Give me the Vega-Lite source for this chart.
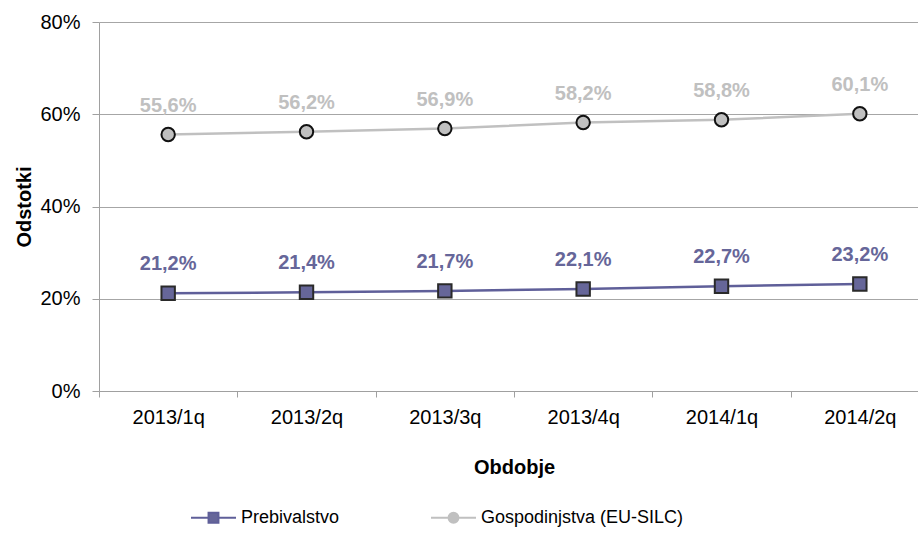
{
  "$schema": "https://vega.github.io/schema/vega-lite/v6.json",
  "autosize": {"type": "none"},
  "width": 819,
  "height": 369,
  "padding": {"left": 99, "top": 22, "right": 0, "bottom": 146},
  "config": {
    "locale": {"number": {"decimal": ",", "thousands": ".", "grouping": [3], "currency": ["", " €"]}},
    "font": "Liberation Sans",
    "view": {"stroke": null},
    "axis": {"labelFont": "Liberation Sans", "titleFont": "Liberation Sans", "labelColor": "#000", "titleColor": "#000"}
  },
  "data": {
    "values": [
      {"period": "2013/1q", "series": "Prebivalstvo", "value": 0.212},
      {"period": "2013/2q", "series": "Prebivalstvo", "value": 0.214},
      {"period": "2013/3q", "series": "Prebivalstvo", "value": 0.217},
      {"period": "2013/4q", "series": "Prebivalstvo", "value": 0.221},
      {"period": "2014/1q", "series": "Prebivalstvo", "value": 0.227},
      {"period": "2014/2q", "series": "Prebivalstvo", "value": 0.232},
      {"period": "2013/1q", "series": "Gospodinjstva (EU-SILC)", "value": 0.556},
      {"period": "2013/2q", "series": "Gospodinjstva (EU-SILC)", "value": 0.562},
      {"period": "2013/3q", "series": "Gospodinjstva (EU-SILC)", "value": 0.569},
      {"period": "2013/4q", "series": "Gospodinjstva (EU-SILC)", "value": 0.582},
      {"period": "2014/1q", "series": "Gospodinjstva (EU-SILC)", "value": 0.588},
      {"period": "2014/2q", "series": "Gospodinjstva (EU-SILC)", "value": 0.601}
    ]
  },
  "encoding": {
    "x": {
      "field": "period", "type": "ordinal", "sort": null,
      "scale": {"type": "band", "range": [0, 830], "paddingInner": 0, "paddingOuter": 0},
      "axis": {
        "title": "Obdobje", "titleFontSize": 20, "titleFontWeight": "bold", "titlePadding": 30,
        "labelAngle": 0, "labelFontSize": 20, "labelPadding": 10,
        "tickBand": "extent", "tickSize": 6, "tickColor": "#a0a0a0", "domainColor": "#a0a0a0",
        "grid": false
      }
    },
    "y": {
      "field": "value", "type": "quantitative",
      "scale": {"domain": [0, 0.8]},
      "axis": {
        "title": "Odstotki", "titleFontSize": 20, "titleFontWeight": "bold", "titlePadding": 5,
        "values": [0, 0.2, 0.4, 0.6, 0.8], "format": ".0%",
        "labelFontSize": 20, "labelPadding": 12,
        "tickSize": 7, "tickColor": "#a0a0a0", "domainColor": "#a0a0a0",
        "grid": true, "gridColor": "#a6a6a6"
      }
    }
  },
  "layer": [
    {
      "mark": {"type": "point", "filled": true, "size": 0, "opacity": 1},
      "encoding": {
        "fill": {
          "field": "series", "type": "nominal",
          "scale": {"domain": ["Prebivalstvo", "Gospodinjstva (EU-SILC)"], "range": ["#666699", "#c0c0c0"]},
          "legend": {
            "title": null, "orient": "none", "legendX": 91, "legendY": 472, "direction": "horizontal",
            "labelFontSize": 18, "labelColor": "#000", "labelFont": "Liberation Sans", "labelLimit": 400,
            "symbolSize": 2025, "symbolStrokeWidth": 2, "symbolOpacity": 1, "labelOffset": 4, "columnPadding": 87
          }
        },
        "shape": {
          "field": "series", "type": "nominal",
          "scale": {
            "domain": ["Prebivalstvo", "Gospodinjstva (EU-SILC)"],
            "range": [
              "M-1,0H-0.22M0.22,0H1M-0.22,-0.22H0.22V0.22H-0.22Z",
              "M-1,0H-0.22M0.22,0H1M-0.22,0A0.22,0.22 0 1,1 0.22,0A0.22,0.22 0 1,1 -0.22,0Z"
            ]
          }
        }
      }
    },
    {
      "mark": {"type": "line", "strokeWidth": 2.5},
      "encoding": {
        "stroke": {
          "field": "series", "type": "nominal",
          "scale": {"domain": ["Prebivalstvo", "Gospodinjstva (EU-SILC)"], "range": ["#5f5f99", "#c0c0c0"]}
        }
      }
    },
    {
      "transform": [{"filter": "datum.series === 'Prebivalstvo'"}],
      "mark": {"type": "point", "shape": "square", "filled": true, "stroke": "#2a2a2a", "strokeWidth": 2, "size": 180, "opacity": 1},
      "encoding": {"fill": {"field": "series", "type": "nominal", "legend": null}}
    },
    {
      "transform": [{"filter": "datum.series !== 'Prebivalstvo'"}],
      "mark": {"type": "point", "shape": "circle", "filled": true, "stroke": "#111", "strokeWidth": 2, "size": 180, "opacity": 1},
      "encoding": {"fill": {"field": "series", "type": "nominal", "legend": null}}
    },
    {
      "mark": {"type": "text", "dy": -29, "fontWeight": "bold", "fontSize": 20, "font": "Liberation Sans"},
      "encoding": {
        "text": {"field": "value", "type": "quantitative", "format": ".1%"},
        "fill": {"field": "series", "type": "nominal", "legend": null}
      }
    }
  ]
}
